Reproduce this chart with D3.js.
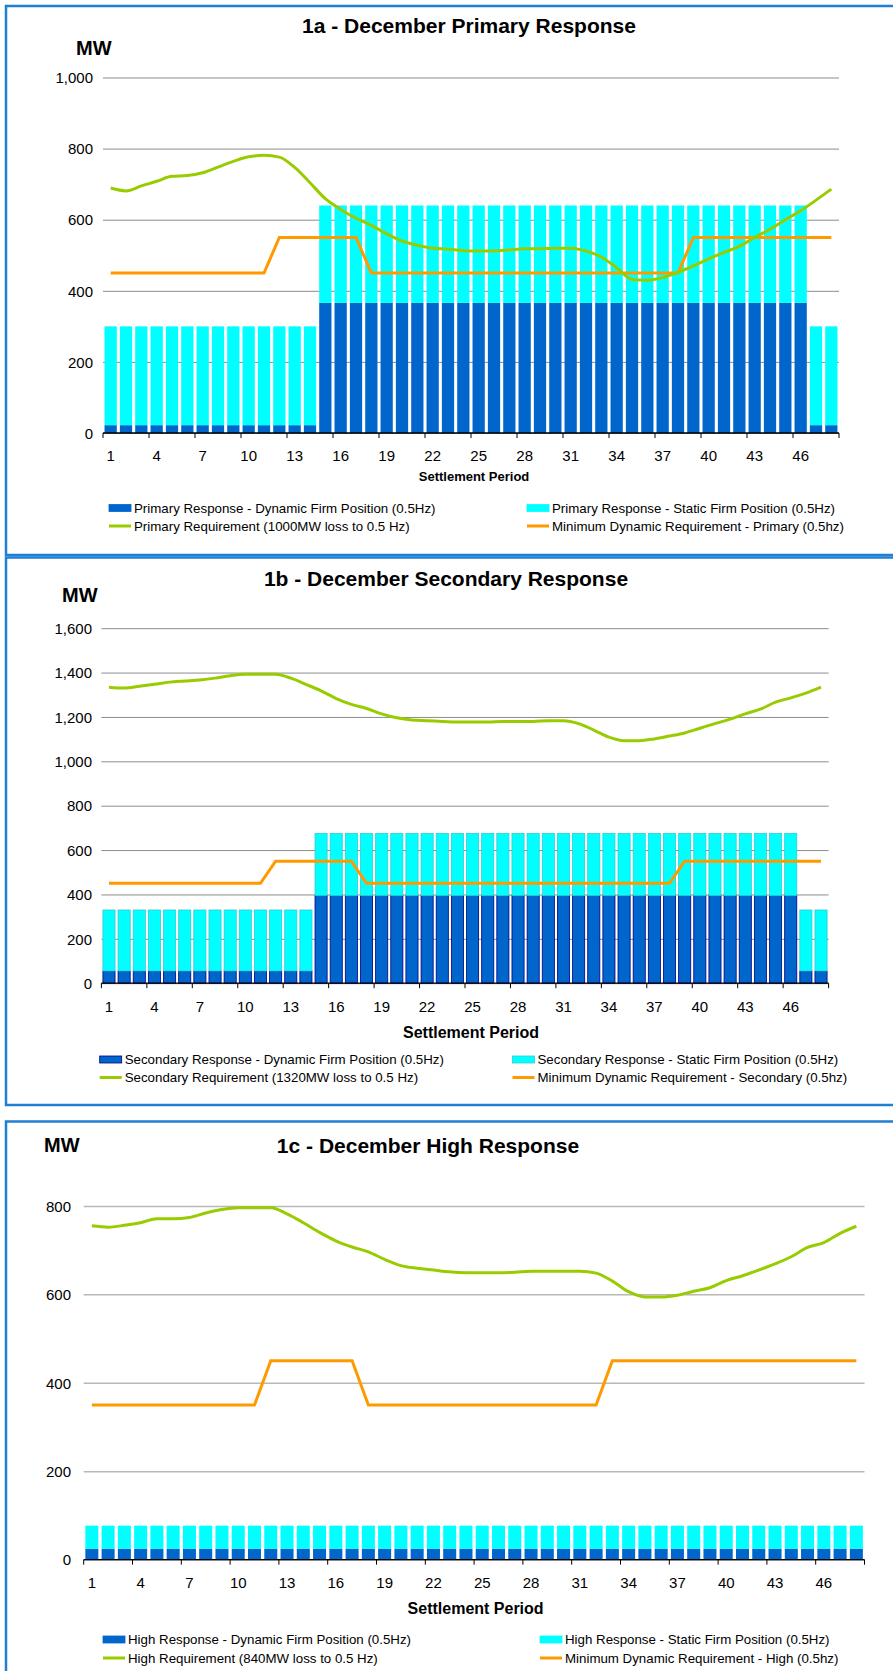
<!DOCTYPE html>
<html>
<head>
<meta charset="utf-8">
<script src="https://d3js.org/d3.v7.min.js"></script>
<style>
  body { margin: 0; background: #fff; }
  text { font-family: "Liberation Sans", Arial, Helvetica, sans-serif; fill: #000; }
</style>
</head>
<body>
<svg id="page" width="893" height="1671"></svg>
<script>
// settlement periods and the labels shown on the x axis
var periods = [1,2,3,4,5,6,7,8,9,10,11,12,13,14,15,16,17,18,19,20,21,22,23,24,
               25,26,27,28,29,30,31,32,33,34,35,36,37,38,39,40,41,42,43,44,45,46,47,48];
var periodLabels = [1,4,7,10,13,16,19,22,25,28,31,34,37,40,43,46];

// 1a primary
var primaryTicks = [0,200,400,600,800,1000];
var primaryDynamic = [22,22,22,22,22,22,22,22,22,22,22,22,22,22,
  366,366,366,366,366,366,366,366,366,366,366,366,366,366,366,366,
  366,366,366,366,366,366,366,366,366,366,366,366,366,366,366,366,22,22];
var primaryStatic = [278,278,278,278,278,278,278,278,278,278,278,278,278,278,
  274,274,274,274,274,274,274,274,274,274,274,274,274,274,274,274,
  274,274,274,274,274,274,274,274,274,274,274,274,274,274,274,274,278,278];
var primaryReq = [689,681,695,708,722,724,732,748,764,777,781,776,747,704,659,629,
  604,584,560,540,528,520,517,513,512,512,515,518,518,520,520,512,
  495,465,432,430,437,452,470,490,508,525,550,573,600,625,655,686];
var primaryMinDyn = [450,450,450,450,450,450,450,450,450,450,450,550,550,550,550,550,
  550,450,450,450,450,450,450,450,450,450,450,450,450,450,450,450,
  450,450,450,450,450,450,550,550,550,550,550,550,550,550,550,550];

// 1b secondary
var secondaryTicks = [0,200,400,600,800,1000,1200,1400,1600];
var secondaryDynamic = [55,55,55,55,55,55,55,55,55,55,55,55,55,55,
  395,395,395,395,395,395,395,395,395,395,395,395,395,395,395,395,
  395,395,395,395,395,395,395,395,395,395,395,395,395,395,395,395,55,55];
var secondaryStatic = [275,275,275,275,275,275,275,275,275,275,275,275,275,275,
  280,280,280,280,280,280,280,280,280,280,280,280,280,280,280,280,
  280,280,280,280,280,280,280,280,280,280,280,280,280,280,280,280,275,275];
var secondaryReq = [1334,1330,1338,1347,1357,1362,1367,1375,1386,1392,1392,1392,1375,1347,1318,1283,
  1257,1238,1214,1196,1186,1183,1180,1177,1177,1177,1180,1180,1180,1183,1183,1170,
  1141,1109,1093,1093,1101,1114,1128,1149,1170,1190,1214,1235,1267,1286,1307,1334];
var secondaryMinDyn = [450,450,450,450,450,450,450,450,450,450,450,550,550,550,550,550,
  550,450,450,450,450,450,450,450,450,450,450,450,450,450,450,450,
  450,450,450,450,450,450,550,550,550,550,550,550,550,550,550,550];

// 1c high
var highTicks = [0,200,400,600,800];
var highDynamic = [25,25,25,25,25,25,25,25,25,25,25,25,25,25,25,25,
  25,25,25,25,25,25,25,25,25,25,25,25,25,25,25,25,
  25,25,25,25,25,25,25,25,25,25,25,25,25,25,25,25];
var highStatic = [52,52,52,52,52,52,52,52,52,52,52,52,52,52,52,52,
  52,52,52,52,52,52,52,52,52,52,52,52,52,52,52,52,
  52,52,52,52,52,52,52,52,52,52,52,52,52,52,52,52];
var highReq = [755,752,756,762,771,771,774,784,792,796,796,796,782,762,740,721,
  707,696,679,665,659,655,651,649,649,649,650,652,652,652,652,648,
  630,606,594,594,598,607,615,631,642,655,669,685,706,717,738,754];
var highMinDyn = [350,350,350,350,350,350,350,350,350,350,350,450,450,450,450,450,
  450,350,350,350,350,350,350,350,350,350,350,350,350,350,350,350,
  450,450,450,450,450,450,450,450,450,450,450,450,450,450,450,450];

var DYN = "#0066cc", STAT = "#00ffff", GREEN = "#99cc00", ORANGE = "#ff9900";

var svg = d3.select("#page");

function drawChart(c) {
  // panel frame
  svg.append("rect")
    .attr("x", 6).attr("y", c.panelTop)
    .attr("width", 900).attr("height", c.panelH)
    .attr("fill", "none").attr("stroke", "#1f7fd2").attr("stroke-width", 2.5);

  var g = svg.append("g");

  var x = d3.scaleBand().domain(periods).range([c.left, c.right])
    .paddingInner(0.2).paddingOuter(0.1);
  var y = d3.scaleLinear().domain([0, c.yTop]).range([c.y0, c.yTopPx]);
  var step = x.step();

  // gridlines + y labels
  var ya = g.append("g").attr("transform", "translate(" + c.left + ",0)")
    .call(d3.axisLeft(y).tickValues(c.ticks).tickSize(-(c.right - c.left))
      .tickPadding(10).tickFormat(d3.format(",")));
  ya.select(".domain").remove();
  ya.selectAll(".tick line").attr("stroke", c.gridColor).attr("stroke-width", c.gridW);
  ya.selectAll(".tick text").attr("font-size", 15).attr("x", c.yLabelRight - c.left)
    .attr("dy", "0.35em");

  // stacked bars
  var bars = g.append("g");
  bars.selectAll(".dyn").data(periods).enter().append("rect")
    .attr("x", function(p) { return x(p); })
    .attr("width", x.bandwidth())
    .attr("y", function(p, i) { return y(c.dynamic[i]); })
    .attr("height", function(p, i) { return y(0) - y(c.dynamic[i]); })
    .attr("fill", DYN)
    .attr("stroke", c.outline ? "#000080" : "none").attr("stroke-width", 0.8);
  bars.selectAll(".stat").data(periods).enter().append("rect")
    .attr("x", function(p) { return x(p); })
    .attr("width", x.bandwidth())
    .attr("y", function(p, i) { return y(c.dynamic[i] + c.stat[i]); })
    .attr("height", function(p, i) { return y(c.dynamic[i]) - y(c.dynamic[i] + c.stat[i]); })
    .attr("fill", STAT)
    .attr("stroke", c.outline ? "#33cccc" : "none").attr("stroke-width", 0.8);

  // x axis line and ticks on category boundaries
  g.append("line").attr("x1", c.left).attr("x2", c.right)
    .attr("y1", y(0)).attr("y2", y(0)).attr("stroke", "#000").attr("stroke-width", 1.3);
  var tickPos = periodLabels.map(function(p) { return x(p) - step * 0.1; }).concat([c.right]);
  g.selectAll(".xt").data(tickPos).enter().append("line")
    .attr("x1", function(d) { return d; }).attr("x2", function(d) { return d; })
    .attr("y1", y(0)).attr("y2", y(0) + 5).attr("stroke", "#000").attr("stroke-width", 1);

  var xa = g.append("g").attr("transform", "translate(0," + y(0) + ")")
    .call(d3.axisBottom(x).tickValues(periodLabels).tickSize(0));
  xa.select(".domain").remove();
  xa.selectAll(".tick text").attr("font-size", 15).attr("dy", 0)
    .attr("y", c.xLabelBase - y(0));

  // lines
  var lineGen = d3.line()
    .x(function(p) { return x(p) + x.bandwidth() / 2; });
  g.append("path").datum(periods)
    .attr("d", lineGen.y(function(p, i) { return y(c.minDyn[i]); }).curve(d3.curveLinear))
    .attr("fill", "none").attr("stroke", ORANGE).attr("stroke-width", 3);
  g.append("path").datum(periods)
    .attr("d", lineGen.y(function(p, i) { return y(c.req[i]); }).curve(d3.curveMonotoneX))
    .attr("fill", "none").attr("stroke", GREEN).attr("stroke-width", 3);

  // titles
  svg.append("text").attr("x", c.titleX).attr("y", c.titleBase)
    .attr("text-anchor", "middle").attr("font-size", 21).attr("font-weight", "bold")
    .text(c.title);
  svg.append("text").attr("x", c.mwX).attr("y", c.mwBase)
    .attr("font-size", 20).attr("font-weight", "bold").text("MW");
  svg.append("text").attr("x", (c.left + c.right) / 2 + c.spShift).attr("y", c.spBase)
    .attr("text-anchor", "middle").attr("font-size", c.spSize).attr("font-weight", "bold")
    .text("Settlement Period");

  // legend
  var items = [
    { x: c.legL, row: 0, type: "bar", fill: DYN, stroke: c.outline ? "#000080" : DYN, label: c.legend[0] },
    { x: c.legR, row: 0, type: "bar", fill: STAT, stroke: c.outline ? "#33cccc" : STAT, label: c.legend[1] },
    { x: c.legL, row: 1, type: "line", color: GREEN, label: c.legend[2] },
    { x: c.legR, row: 1, type: "line", color: ORANGE, label: c.legend[3] }
  ];
  var lg = svg.append("g");
  items.forEach(function(it) {
    var base = c.legBase + it.row * c.legGap;
    if (it.type === "bar") {
      lg.append("rect").attr("x", it.x).attr("y", base - 8).attr("width", 22).attr("height", 7)
        .attr("fill", it.fill).attr("stroke", it.stroke).attr("stroke-width", 0.8);
    } else {
      lg.append("line").attr("x1", it.x).attr("x2", it.x + 22)
        .attr("y1", base - 4.5).attr("y2", base - 4.5)
        .attr("stroke", it.color).attr("stroke-width", 3);
    }
    lg.append("text").attr("x", it.x + 25).attr("y", base).attr("font-size", 13.3)
      .attr("fill", "#222").text(it.label);
  });
}

drawChart({
  panelTop: 6, panelH: 549,
  left: 103, right: 839, y0: 433, yTop: 1000, yTopPx: 77.5, ticks: primaryTicks,
  yLabelRight: 93, xLabelBase: 461, gridColor: "#8c8c8c", gridW: 1,
  dynamic: primaryDynamic, stat: primaryStatic, req: primaryReq, minDyn: primaryMinDyn,
  outline: false,
  title: "1a - December Primary Response", titleX: 469, titleBase: 33,
  mwX: 76, mwBase: 55,
  spShift: 3, spBase: 481, spSize: 13,
  legL: 109, legR: 527, legBase: 512.5, legGap: 18,
  legend: ["Primary Response - Dynamic Firm Position (0.5Hz)",
           "Primary Response - Static Firm Position (0.5Hz)",
           "Primary Requirement (1000MW loss to 0.5 Hz)",
           "Minimum Dynamic Requirement - Primary (0.5hz)"]
});

drawChart({
  panelTop: 557.5, panelH: 547.5,
  left: 101.4, right: 828.6, y0: 983.2, yTop: 1600, yTopPx: 628.2, ticks: secondaryTicks,
  yLabelRight: 92, xLabelBase: 1012.5, gridColor: "#8c8c8c", gridW: 1,
  dynamic: secondaryDynamic, stat: secondaryStatic, req: secondaryReq, minDyn: secondaryMinDyn,
  outline: true,
  title: "1b - December Secondary Response", titleX: 446, titleBase: 585.7,
  mwX: 62, mwBase: 602,
  spShift: 6, spBase: 1037.5, spSize: 16,
  legL: 99.7, legR: 512.5, legBase: 1064, legGap: 18,
  legend: ["Secondary Response - Dynamic Firm Position (0.5Hz)",
           "Secondary Response - Static Firm Position (0.5Hz)",
           "Secondary Requirement (1320MW loss to 0.5 Hz)",
           "Minimum Dynamic Requirement - Secondary (0.5hz)"]
});

drawChart({
  panelTop: 1121.5, panelH: 600,
  left: 83.7, right: 864.5, y0: 1559.7, yTop: 800, yTopPx: 1205.9, ticks: highTicks,
  yLabelRight: 71, xLabelBase: 1588, gridColor: "#b8b8b8", gridW: 1.5,
  dynamic: highDynamic, stat: highStatic, req: highReq, minDyn: highMinDyn,
  outline: false,
  title: "1c - December High Response", titleX: 428, titleBase: 1152.5,
  mwX: 44, mwBase: 1152,
  spShift: 1.5, spBase: 1614, spSize: 16,
  legL: 103, legR: 540, legBase: 1644, legGap: 18.5,
  legend: ["High Response - Dynamic Firm Position (0.5Hz)",
           "High Response - Static Firm Position (0.5Hz)",
           "High Requirement (840MW loss to 0.5 Hz)",
           "Minimum Dynamic Requirement - High (0.5hz)"]
});
</script>
</body>
</html>
